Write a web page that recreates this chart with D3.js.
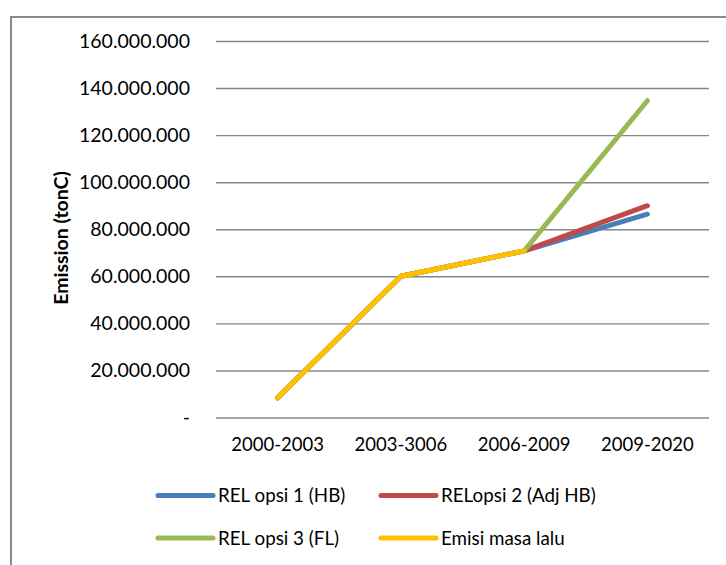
<!DOCTYPE html>
<html>
<head>
<meta charset="utf-8">
<script src="https://cdn.jsdelivr.net/npm/d3@7"></script>
<style>
  body { margin: 0; background: #fff; }
  svg { display: block; }
  text { font-family: Lato, "Liberation Sans", sans-serif; fill: #000; }
</style>
</head>
<body>
<svg id="chart" width="726" height="565"></svg>
<script>
// Periods on the x axis
const categories = ["2000-2003", "2003-3006", "2006-2009", "2009-2020"];
// Series names (legend order)
const seriesNames = ["REL opsi 1 (HB)", "RELopsi 2 (Adj HB)", "REL opsi 3 (FL)", "Emisi masa lalu"];
// Emission values in tonC per period
const relOpsi1 = [8400000, 60000000, 70800000, 86400000];
const relOpsi2 = [8400000, 60000000, 70800000, 90000000];
const relOpsi3 = [8400000, 60000000, 70800000, 134600000];
const emisiMasaLalu = [8400000, 60000000, 70800000, null];
// Y axis tick values
const yTicks = [0, 20000000, 40000000, 60000000, 80000000, 100000000, 120000000, 140000000, 160000000];

const seriesValues = [relOpsi1, relOpsi2, relOpsi3, emisiMasaLalu];
const colors = ["#4A7EBB", "#BE4B48", "#98B954", "#FFC000"];

const svg = d3.select("#chart");

// Outer chart frame
svg.append("rect")
  .attr("x", 11).attr("y", 17)
  .attr("width", 800).attr("height", 600)
  .attr("fill", "none")
  .attr("stroke", "#898989")
  .attr("stroke-width", 2);

const plot = { left: 216, right: 709, top: 41, bottom: 417.5 };

const x = d3.scaleBand().domain(categories).range([plot.left, plot.right]);
const y = d3.scaleLinear().domain([0, 160000000]).range([plot.bottom, plot.top]);

const fmt = v => v === 0 ? "-" : d3.format(",")(v).replace(/,/g, ".");

// Y axis with horizontal gridlines
const yAxis = svg.append("g")
  .attr("transform", `translate(${plot.left},0)`)
  .call(d3.axisLeft(y)
    .tickValues(yTicks)
    .tickFormat(fmt)
    .tickSize(-(plot.right - plot.left))
    .tickPadding(26));
yAxis.select(".domain").remove();
yAxis.selectAll(".tick line").attr("stroke", "#868686").attr("stroke-width", 1.4);
yAxis.selectAll(".tick text")
  .style("font-size", "19.5px")
  .attr("fill", "#000");

// X axis labels
const xAxis = svg.append("g")
  .attr("transform", `translate(0,${plot.bottom})`)
  .call(d3.axisBottom(x).tickSize(0).tickPadding(20));
xAxis.select(".domain").remove();
xAxis.selectAll(".tick text")
  .style("font-size", "18.5px")
  .attr("fill", "#000");

// Y axis title
svg.append("text")
  .attr("transform", "translate(61,238) rotate(-90)")
  .attr("text-anchor", "middle")
  .attr("dy", "0.35em")
  .style("font-size", "19.5px")
  .style("font-weight", "bold")
  .text("Emission (tonC)");

// Series lines
const line = d3.line()
  .defined(d => d.v !== null)
  .x(d => x(d.c) + x.bandwidth() / 2)
  .y(d => y(d.v));

seriesValues.forEach((vals, i) => {
  const pts = categories.map((c, j) => ({ c, v: vals[j] }));
  svg.append("path")
    .datum(pts)
    .attr("d", line)
    .attr("fill", "none")
    .attr("stroke", colors[i])
    .attr("stroke-width", 5)
    .attr("stroke-linecap", "round")
    .attr("stroke-linejoin", "round");
});

// Legend, two rows by two columns
const legendPos = [
  { x: 158, y: 495.5 }, { x: 381, y: 495.5 },
  { x: 158, y: 538 }, { x: 381, y: 538 }
];
seriesNames.forEach((name, i) => {
  const g = svg.append("g").attr("transform", `translate(${legendPos[i].x},${legendPos[i].y})`);
  g.append("line")
    .attr("x1", 0).attr("x2", 55)
    .attr("stroke", colors[i])
    .attr("stroke-width", 5)
    .attr("stroke-linecap", "round");
  g.append("text")
    .attr("x", 60)
    .attr("dy", "0.35em")
    .style("font-size", "18.8px")
    .text(name);
});
</script>
</body>
</html>
